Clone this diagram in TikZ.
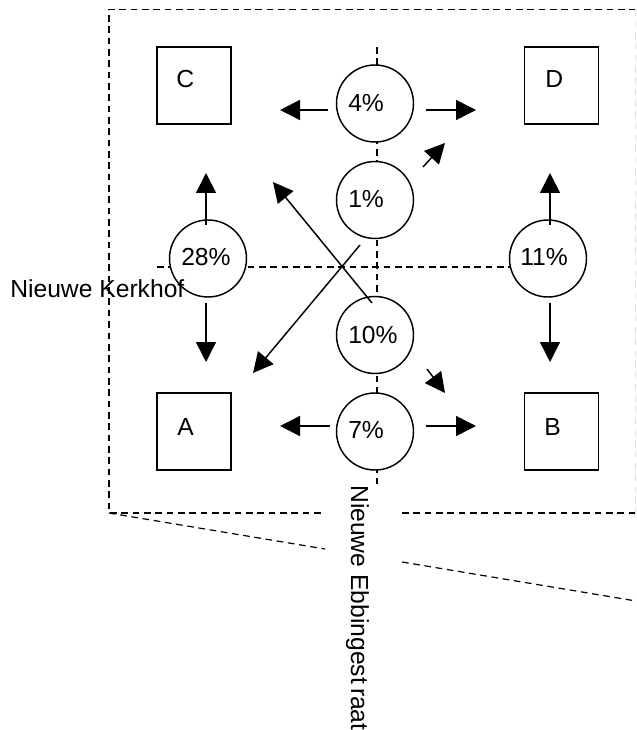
\documentclass[tikz,border=0pt]{standalone}
\usepackage{fontspec}
\setmainfont{Liberation Sans}
\usetikzlibrary{arrows.meta}
\begin{document}
\begin{tikzpicture}[x=0.75pt,y=-0.75pt,
  frame/.style={dash pattern=on 5pt off 3.5pt, line width=0.9pt},
  faint/.style={dash pattern=on 5pt off 3.5pt, line width=0.6pt, black!12},
  box/.style={draw, line width=1.1pt, minimum width=55.5pt, minimum height=57.75pt, inner sep=0pt},
  pct/.style={circle, draw, fill=white, line width=1.1pt, minimum size=57.75pt, inner sep=0pt},
  lbl/.style={anchor=base west, inner sep=0pt, font=\fontsize{18.5}{22}\selectfont},
  flow/.style={line width=1.1pt, -{Triangle[length=15pt,width=15pt]}}]
\useasboundingbox (0,0) rectangle (636,730);

% frame
\coordinate (ftl) at (109,9.5);
\coordinate (ftr) at (636,9.5);
\coordinate (fbl) at (109,513);
\coordinate (fbm1) at (325,513);
\coordinate (fbm2) at (402,513);
\coordinate (fbr) at (636,513);
\coordinate (fd1) at (325,549);
\coordinate (fd2) at (402,562);
\coordinate (fd3) at (636,601);
\draw[frame] (ftr) -- (ftl) -- (fbl) -- (fbm1);
\draw[frame] (fbm2) -- (fbr);
\draw[frame] (fbl) -- (fd1);
\draw[frame] (fd2) -- (fd3);
\coordinate (frt) at (635,9.5);
\coordinate (frb) at (635,513);
\draw[faint] (frt) -- (frb);

% axis lines
\coordinate (vt) at (377,47);
\coordinate (vb) at (377,487);
\coordinate (hl) at (157,267);
\coordinate (hr) at (540,267);
\draw[frame] (vt) -- (vb);
\draw[frame] (hl) -- (hr);

% circles
\node[pct] (c4)  at (375,103.5) {};
\node[pct] (c1)  at (375,200) {};
\node[pct] (c10) at (375,335) {};
\node[pct] (c7)  at (375,431.5) {};
\node[pct] (c28) at (208,258.5) {};
\node[pct] (c11) at (548,258.5) {};
\node[lbl] (t4)  at (348,112) {4\%};
\node[lbl] (t1)  at (348,208) {1\%};
\node[lbl] (t10) at (348,343) {10\%};
\node[lbl] (t7)  at (348,438) {7\%};
\node[lbl] (t28) at (181,266) {28\%};
\node[lbl] (t11) at (520,266) {11\%};

% boxes
\node[box] (bC) at (194,85.5) {};
\node[box] (bD) at (561.5,85.5) {};
\node[box] (bA) at (194,431.5) {};
\node[box] (bB) at (561.5,431.5) {};
\node[lbl] (tC) at (176,88) {C};
\node[lbl] (tD) at (545,88) {D};
\node[lbl] (tA) at (177,435) {A};
\node[lbl] (tB) at (544,435) {B};

% street names
\node[lbl] (kerk) at (10,297) {Nieuwe Kerkhof};
\node[lbl, rotate=-90] (ebb) at (351,485) {Nieuwe Ebbingest\kern3pt raat};

% arrows
\coordinate (a4ls) at (328,110); \coordinate (a4le) at (280,110);
\coordinate (a4rs) at (426,110); \coordinate (a4re) at (476,110);
\coordinate (a7ls) at (330,426); \coordinate (a7le) at (280,426);
\coordinate (a7rs) at (426,426); \coordinate (a7re) at (476,426);
\coordinate (a28us) at (206,225); \coordinate (a28ue) at (206,173);
\coordinate (a28ds) at (206,303); \coordinate (a28de) at (206,362);
\coordinate (a11us) at (550,225); \coordinate (a11ue) at (550,173);
\coordinate (a11ds) at (550,303); \coordinate (a11de) at (550,362);
\coordinate (d1s) at (372,303); \coordinate (d1e) at (273,182);
\coordinate (d2s) at (360,245); \coordinate (d2e) at (253,373);
\coordinate (s1s) at (423,167); \coordinate (s1e) at (445,143);
\coordinate (s2s) at (427,369); \coordinate (s2e) at (445,393);
\draw[flow] (a4ls) -- (a4le);
\draw[flow] (a4rs) -- (a4re);
\draw[flow] (a7ls) -- (a7le);
\draw[flow] (a7rs) -- (a7re);
\draw[flow] (a28us) -- (a28ue);
\draw[flow] (a28ds) -- (a28de);
\draw[flow] (a11us) -- (a11ue);
\draw[flow] (a11ds) -- (a11de);
\draw[flow] (d1s) -- (d1e);
\draw[flow] (d2s) -- (d2e);
\draw[flow] (s1s) -- (s1e);
\draw[flow] (s2s) -- (s2e);
\end{tikzpicture}
\end{document}
